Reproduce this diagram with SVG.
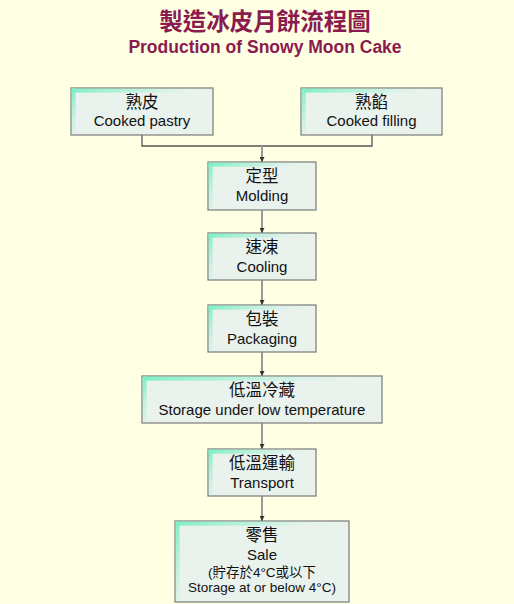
<svg xmlns="http://www.w3.org/2000/svg" width="514" height="604" viewBox="0 0 514 604">
<defs>
<linearGradient id="gTop" x1="0" y1="0" x2="1" y2="0">
<stop offset="0" stop-color="#7ef0c6" stop-opacity="1"/>
<stop offset="0.6" stop-color="#9ff2d4" stop-opacity="0.35"/>
<stop offset="1" stop-color="#ffffff" stop-opacity="0"/>
</linearGradient>
<linearGradient id="gLeft" x1="0" y1="0" x2="0" y2="1">
<stop offset="0" stop-color="#7ef0c6" stop-opacity="1"/>
<stop offset="1" stop-color="#a8f0d8" stop-opacity="0.15"/>
</linearGradient>
<marker id="ah" viewBox="0 0 10 10" refX="10" refY="5" markerWidth="5" markerHeight="5" markerUnits="userSpaceOnUse" orient="auto">
<path d="M0,0 L10,5 L0,10 z" fill="#333"/>
</marker>
<style>
.box{fill:#e9f2ec;stroke:#7a7a7a;stroke-width:1.2}
.zh{font-family:"Noto Sans CJK TC","Noto Sans CJK SC",sans-serif;font-size:16.5px;fill:#111;text-anchor:middle}
.en{font-family:"Liberation Sans",Arial,sans-serif;font-size:15px;fill:#111;text-anchor:middle}
.sm{font-family:"Liberation Sans","Noto Sans CJK TC",sans-serif;font-size:13.5px;fill:#111;text-anchor:middle}
.arr{stroke:#9a9a9a;stroke-width:2;fill:none;marker-end:url(#ah)}
.ln{stroke:#555;stroke-width:1.3;fill:none}
.t1{font-family:"Noto Sans CJK TC","Noto Sans CJK SC",sans-serif;font-size:23.5px;font-weight:bold;fill:#8a1b4e;text-anchor:middle}
.t2{font-family:"Liberation Sans",Arial,sans-serif;font-size:17.5px;font-weight:bold;fill:#8a1b4e;text-anchor:middle}
</style>
</defs>
<rect x="0" y="0" width="514" height="604" fill="#ffffe4"/>
<g id="title">
<text class="t1" x="265" y="30">製造冰皮月餅流程圖</text>
<text class="t2" x="265" y="53">Production of Snowy Moon Cake</text>
</g>
<g id="connectors">
<path class="ln" d="M142,135 V146 H372 V135"/>
<line class="arr" x1="262" y1="146" x2="262" y2="162"/>
<line class="arr" x1="262" y1="210" x2="262" y2="233"/>
<line class="arr" x1="262" y1="280" x2="262" y2="305"/>
<line class="arr" x1="262" y1="352" x2="262" y2="376"/>
<line class="arr" x1="262" y1="423" x2="262" y2="449"/>
<line class="arr" x1="262" y1="496" x2="262" y2="521"/>
</g>
<g id="pastry">
<rect class="box" x="71" y="88" width="142" height="47"/>
<rect x="71.6" y="88.6" width="140.8" height="4" fill="url(#gTop)"/>
<rect x="71.6" y="88.6" width="4" height="45.8" fill="url(#gLeft)"/>
<text class="zh" x="142" y="108">熟皮</text>
<text class="en" x="142" y="126">Cooked pastry</text>
</g>
<g id="filling">
<rect class="box" x="301" y="88" width="141" height="47"/>
<rect x="301.6" y="88.6" width="139.8" height="4" fill="url(#gTop)"/>
<rect x="301.6" y="88.6" width="4" height="45.8" fill="url(#gLeft)"/>
<text class="zh" x="371.5" y="108">熟餡</text>
<text class="en" x="371.5" y="126">Cooked filling</text>
</g>
<g id="molding">
<rect class="box" x="208" y="162" width="108" height="48"/>
<rect x="208.6" y="162.6" width="106.8" height="4" fill="url(#gTop)"/>
<rect x="208.6" y="162.6" width="4" height="46.8" fill="url(#gLeft)"/>
<text class="zh" x="262" y="182">定型</text>
<text class="en" x="262" y="201">Molding</text>
</g>
<g id="cooling">
<rect class="box" x="208" y="233" width="108" height="47"/>
<rect x="208.6" y="233.6" width="106.8" height="4" fill="url(#gTop)"/>
<rect x="208.6" y="233.6" width="4" height="45.8" fill="url(#gLeft)"/>
<text class="zh" x="262" y="253">速凍</text>
<text class="en" x="262" y="272">Cooling</text>
</g>
<g id="packaging">
<rect class="box" x="208" y="305" width="108" height="47"/>
<rect x="208.6" y="305.6" width="106.8" height="4" fill="url(#gTop)"/>
<rect x="208.6" y="305.6" width="4" height="45.8" fill="url(#gLeft)"/>
<text class="zh" x="262" y="325">包裝</text>
<text class="en" x="262" y="344">Packaging</text>
</g>
<g id="storage">
<rect class="box" x="142" y="376" width="240" height="47"/>
<rect x="142.6" y="376.6" width="238.8" height="4" fill="url(#gTop)"/>
<rect x="142.6" y="376.6" width="4" height="45.8" fill="url(#gLeft)"/>
<text class="zh" x="262" y="396">低溫冷藏</text>
<text class="en" x="262" y="415">Storage under low temperature</text>
</g>
<g id="transport">
<rect class="box" x="208" y="449" width="108" height="47"/>
<rect x="208.6" y="449.6" width="106.8" height="4" fill="url(#gTop)"/>
<rect x="208.6" y="449.6" width="4" height="45.8" fill="url(#gLeft)"/>
<text class="zh" x="262" y="469">低溫運輸</text>
<text class="en" x="262" y="488">Transport</text>
</g>
<g id="sale">
<rect class="box" x="175" y="521" width="174" height="81"/>
<rect x="175.6" y="521.6" width="172.8" height="4" fill="url(#gTop)"/>
<rect x="175.6" y="521.6" width="4" height="79.8" fill="url(#gLeft)"/>
<text class="zh" x="262" y="541">零售</text>
<text class="en" x="262" y="560">Sale</text>
<text class="sm" x="262" y="577">(貯存於4°C或以下</text>
<text class="sm" x="262" y="592">Storage at or below 4°C)</text>
</g>
</svg>
